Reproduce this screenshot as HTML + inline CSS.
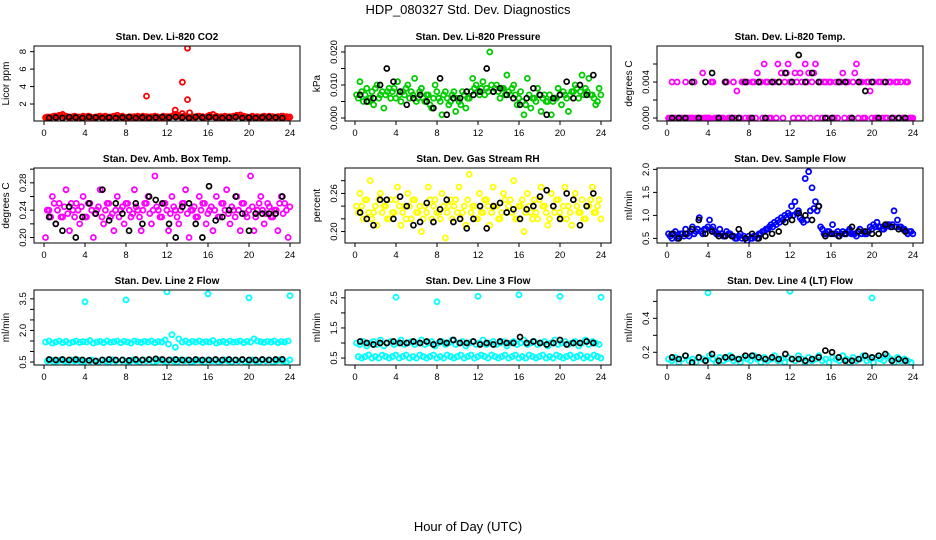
<!DOCTYPE html>
<html><head><meta charset="utf-8"><style>
html,body{margin:0;padding:0;background:#fff;}
svg{display:block;font-family:"Liberation Sans",sans-serif;}
</style></head><body>
<svg id="chart" width="936" height="540" viewBox="0 0 936 540" xmlns="http://www.w3.org/2000/svg">
<text x="468" y="14" text-anchor="middle" font-size="13">HDP_080327  Std. Dev. Diagnostics</text>
<text x="468" y="531" text-anchor="middle" font-size="13">Hour of Day (UTC)</text>
</svg>
<script>
var xTicks=[0,4,8,12,16,20,24];
var co2Main=[0.45,0.5,0.55,0.6,0.7,0.8,0.6,0.5,0.55,0.45,0.5,0.6,0.5,0.55,0.45,0.5,0.6,0.55,0.5,0.45,0.6,0.7,0.55,0.5,0.45,0.5,0.55,0.6,0.5,0.45,0.5,0.55,0.6,0.5,0.5,0.45,0.55,0.6,0.8,0.7,0.9,0.6,0.5,0.55,0.5,0.6,0.55,0.5,0.7,0.8,0.6,0.5,0.45,0.5,0.55,0.6,0.7,0.75,0.6,0.5,0.45,0.5,0.55,0.5,0.6,0.5,0.45,0.5,0.55,0.6,0.5,0.45];
var co2Main2=[0.5,0.4,0.6,0.5,0.65,0.55,0.5,0.45,0.6,0.5,0.4,0.55,0.6,0.45,0.5,0.55,0.45,0.6,0.5,0.55,0.45,0.5,0.6,0.45,0.55,0.5,0.45,0.5,0.6,0.55,0.45,0.5,0.55,0.45,0.6,0.55,0.5,0.7,0.6,0.5,0.6,0.55,0.45,0.5,0.6,0.5,0.45,0.6,0.55,0.5,0.45,0.55,0.6,0.5,0.45,0.55,0.6,0.5,0.55,0.45,0.6,0.5,0.45,0.55,0.5,0.6,0.55,0.45,0.5,0.6,0.55,0.5];
var co2OutHours=[10,12.8,13.5,14,14,14.2];
var co2OutVals=[2.9,1.3,4.5,8.4,2.5,1.0];
var co2Black=[0.4,0.45,0.4,0.5,0.45,0.4,0.5,0.45,0.4,0.45,0.4,0.45,0.5,0.4,0.45,0.4,0.45,0.5,0.45,0.5,0.45,0.4,0.5,0.45,0.5,0.45,0.4,0.45,0.5,0.4,0.45,0.4,0.45,0.5,0.45,0.4];
var presMain=[0.007,0.011,0.005,0.009,0.006,0.004,0.010,0.007,0.003,0.008,0.006,0.009,0.011,0.005,0.007,0.010,0.008,0.012,0.006,0.009,0.005,0.007,0.003,0.010,0.006,0.001,0.008,0.004,0.007,0.002,0.005,0.008,0.003,0.006,0.012,0.010,0.007,0.011,0.009,0.020,0.008,0.010,0.006,0.009,0.013,0.007,0.010,0.004,0.008,0.001,0.012,0.003,0.006,0.009,0.002,0.007,0.005,0.001,0.006,0.009,0.004,0.007,0.002,0.008,0.010,0.006,0.013,0.009,0.012,0.007,0.004,0.009];
var presMain2=[0.006,0.008,0.007,0.005,0.008,0.009,0.006,0.008,0.007,0.009,0.008,0.006,0.007,0.008,0.009,0.006,0.007,0.005,0.008,0.006,0.007,0.004,0.006,0.008,0.005,0.007,0.006,0.005,0.008,0.006,0.004,0.007,0.006,0.008,0.009,0.008,0.009,0.007,0.008,0.010,0.009,0.008,0.009,0.007,0.008,0.009,0.007,0.006,0.005,0.004,0.007,0.006,0.005,0.007,0.006,0.005,0.007,0.005,0.006,0.007,0.008,0.006,0.007,0.008,0.009,0.008,0.007,0.008,0.007,0.006,0.005,0.007];
var presBlack=[0.007,0.005,0.006,0.010,0.015,0.011,0.008,0.004,0.006,0.007,0.005,0.003,0.012,0.001,0.006,0.006,0.008,0.007,0.008,0.015,0.008,0.009,0.007,0.006,0.004,0.006,0.009,0.007,0.001,0.006,0.007,0.011,0.006,0.010,0.007,0.013];
var tempMain=[0,0.004,0,0,0,0.004,0,0,0,0,0.005,0,0,0.004,0,0,0,0.004,0,0.004,0.003,0,0.004,0.004,0,0.004,0.005,0.004,0.006,0.004,0,0.004,0.006,0.005,0.004,0.006,0.004,0.005,0,0.004,0.006,0.005,0.004,0.006,0.004,0,0.004,0.004,0,0.004,0.004,0.005,0.004,0,0.004,0.006,0.004,0,0.004,0.003,0.004,0,0.004,0.004,0,0.004,0,0.004,0.004,0,0.004,0];
var tempMain2=[0,0,0.004,0,0,0,0,0.004,0,0,0,0,0.004,0,0,0,0.004,0,0,0,0,0.004,0,0,0.004,0,0.004,0,0.004,0,0.004,0,0.004,0,0.005,0.004,0,0.004,0.005,0,0.004,0,0.005,0,0.004,0.004,0,0.004,0,0,0.004,0,0.004,0,0.005,0,0.004,0,0.004,0,0,0.004,0,0,0.004,0,0.004,0,0,0.004,0,0];
var tempBlack=[0,0,0,0.004,0,0.004,0.005,0,0.004,0,0,0.004,0,0.004,0,0.004,0.004,0.005,0.004,0.007,0.004,0.005,0.004,0,0,0.004,0.004,0,0.004,0.003,0.004,0,0.004,0,0,0];
var ambMain=[0.20,0.24,0.26,0.22,0.25,0.23,0.27,0.21,0.24,0.25,0.22,0.26,0.23,0.25,0.20,0.24,0.27,0.22,0.25,0.23,0.21,0.26,0.24,0.22,0.25,0.23,0.27,0.24,0.21,0.25,0.26,0.22,0.29,0.24,0.23,0.25,0.21,0.26,0.24,0.22,0.25,0.27,0.20,0.24,0.23,0.26,0.25,0.22,0.24,0.21,0.26,0.23,0.25,0.27,0.22,0.24,0.26,0.21,0.25,0.23,0.29,0.21,0.24,0.26,0.22,0.25,0.23,0.24,0.21,0.26,0.25,0.20];
var ambMain2=[0.24,0.23,0.25,0.24,0.23,0.245,0.235,0.25,0.23,0.24,0.245,0.23,0.25,0.24,0.235,0.245,0.23,0.24,0.25,0.235,0.24,0.23,0.245,0.25,0.24,0.235,0.245,0.23,0.24,0.25,0.235,0.24,0.245,0.23,0.25,0.24,0.235,0.245,0.23,0.24,0.25,0.235,0.24,0.245,0.23,0.24,0.25,0.235,0.245,0.24,0.23,0.25,0.24,0.235,0.245,0.23,0.24,0.25,0.235,0.24,0.245,0.23,0.25,0.24,0.235,0.245,0.23,0.24,0.25,0.235,0.24,0.245];
var ambBlack=[0.23,0.22,0.21,0.245,0.20,0.23,0.25,0.235,0.27,0.225,0.25,0.235,0.21,0.25,0.22,0.26,0.255,0.25,0.22,0.20,0.245,0.25,0.22,0.20,0.275,0.225,0.23,0.24,0.26,0.235,0.21,0.235,0.235,0.235,0.235,0.26];
var rhMain=[0.24,0.26,0.22,0.25,0.28,0.23,0.21,0.26,0.24,0.22,0.25,0.23,0.27,0.21,0.24,0.26,0.22,0.25,0.23,0.20,0.24,0.27,0.22,0.25,0.23,0.26,0.19,0.24,0.22,0.25,0.27,0.23,0.21,0.29,0.24,0.22,0.26,0.23,0.25,0.21,0.27,0.24,0.22,0.26,0.23,0.25,0.28,0.22,0.24,0.20,0.26,0.23,0.25,0.22,0.27,0.24,0.21,0.26,0.23,0.25,0.22,0.27,0.24,0.21,0.26,0.23,0.25,0.22,0.24,0.27,0.23,0.25];
var rhMain2=[0.23,0.24,0.25,0.23,0.22,0.24,0.25,0.23,0.24,0.22,0.23,0.25,0.24,0.23,0.22,0.24,0.25,0.23,0.24,0.22,0.23,0.25,0.24,0.23,0.22,0.24,0.23,0.25,0.24,0.23,0.22,0.24,0.25,0.23,0.24,0.22,0.23,0.25,0.24,0.23,0.24,0.22,0.23,0.25,0.24,0.23,0.22,0.24,0.25,0.23,0.24,0.22,0.23,0.25,0.24,0.23,0.22,0.24,0.25,0.23,0.24,0.22,0.23,0.25,0.24,0.23,0.22,0.24,0.25,0.23,0.24,0.22];
var rhBlack=[0.23,0.22,0.21,0.25,0.25,0.22,0.255,0.24,0.21,0.215,0.245,0.215,0.235,0.25,0.215,0.22,0.205,0.22,0.24,0.205,0.24,0.245,0.23,0.235,0.22,0.235,0.24,0.255,0.265,0.24,0.22,0.26,0.25,0.21,0.24,0.26];
var sflowMain=[0.6,0.5,0.65,0.55,0.6,0.7,0.55,0.75,0.65,0.95,0.6,0.7,0.9,0.75,0.6,0.7,0.55,0.65,0.6,0.55,0.5,0.6,0.55,0.45,0.5,0.55,0.5,0.6,0.65,0.7,0.8,0.85,0.9,0.95,1.0,1.05,1.2,1.3,1.1,0.9,1.8,1.95,1.6,1.3,1.2,0.7,0.6,0.65,0.8,0.6,0.55,0.65,0.6,0.7,0.6,0.55,0.7,0.65,0.6,0.75,0.8,0.85,0.75,0.7,0.8,0.75,1.1,0.9,0.75,0.7,0.6,0.65];
var sflowMain2=[0.55,0.6,0.5,0.6,0.55,0.6,0.65,0.6,0.7,0.65,0.7,0.75,0.7,0.65,0.6,0.6,0.55,0.6,0.55,0.5,0.55,0.5,0.5,0.55,0.5,0.55,0.6,0.65,0.7,0.75,0.75,0.8,0.85,0.9,0.95,1.0,1.0,1.05,0.95,0.85,0.9,1.1,1.15,1.1,0.75,0.6,0.65,0.6,0.6,0.65,0.6,0.6,0.65,0.6,0.6,0.65,0.6,0.6,0.65,0.7,0.75,0.75,0.7,0.75,0.8,0.8,0.75,0.75,0.7,0.65,0.65,0.6];
var sflowBlack=[0.6,0.5,0.6,0.7,0.9,0.6,0.65,0.55,0.55,0.55,0.7,0.5,0.6,0.5,0.55,0.6,0.65,0.85,0.9,1.05,1.0,0.9,1.2,0.55,0.6,0.55,0.6,0.75,0.65,0.65,0.6,0.6,0.8,0.75,0.7,0.65];
var l2Band=[1.45,1.5,1.4,1.45,1.5,1.42,1.48,1.4,1.45,1.5,1.43,1.47,1.45,1.52,1.4,1.45,1.48,1.42,1.5,1.44,1.46,1.5,1.42,1.48,1.45,1.4,1.5,1.46,1.43,1.48,1.45,1.5,1.42,1.47,1.45,1.55,1.35,1.8,1.2,1.6,1.45,1.5,1.42,1.48,1.45,1.5,1.43,1.47,1.45,1.52,1.4,1.45,1.48,1.42,1.5,1.44,1.46,1.5,1.42,1.48,1.45,1.6,1.5,1.46,1.43,1.48,1.45,1.5,1.42,1.47,1.45,1.5];
var l2Low=[0.55,0.6,0.5,0.55,0.6,0.55,0.5,0.6,0.55,0.6,0.5,0.55,0.45,0.6,0.55,0.5,0.6,0.55,0.5,0.6,0.55,0.4,0.6,0.55,0.5,0.6,0.55,0.5,0.6,0.55,0.6,0.5,0.55,0.6,0.55,0.5,0.6,0.55,0.5,0.6,0.55,0.6,0.5,0.55,0.6,0.55,0.5,0.6,0.55,0.6,0.5,0.55,0.6,0.55,0.5,0.6,0.55,0.6,0.5,0.55,0.6,0.55,0.5,0.6,0.55,0.6,0.5,0.55,0.6,0.55,0.5,0.6];
var l2OutHours=[4,8,12,16,20,24];
var l2OutVals=[3.36,3.45,3.83,3.74,3.55,3.65];
var l2Black=[0.62,0.6,0.62,0.6,0.62,0.6,0.58,0.55,0.6,0.62,0.6,0.6,0.58,0.62,0.6,0.62,0.65,0.62,0.6,0.62,0.6,0.6,0.62,0.6,0.6,0.62,0.6,0.62,0.6,0.62,0.6,0.6,0.62,0.6,0.62,0.63];
var l3Band=[1.0,0.95,1.05,0.9,1.0,1.05,0.95,1.1,0.9,1.0,1.05,0.95,1.0,1.1,0.95,1.0,1.05,0.95,1.0,1.1,0.95,1.0,1.05,0.9,1.0,1.05,0.95,1.0,1.1,0.95,1.0,1.05,0.9,1.0,1.05,0.95,1.0,1.1,0.95,1.0,1.05,0.95,1.0,1.05,0.9,1.0,1.05,0.95,1.0,1.1,0.95,1.0,1.05,0.95,1.0,1.05,0.9,1.0,1.1,0.95,1.0,1.05,0.95,1.0,1.05,0.9,1.0,1.1,0.95,1.05,1.0,0.95];
var l3Low=[0.55,0.5,0.55,0.6,0.5,0.55,0.5,0.6,0.55,0.5,0.55,0.6,0.5,0.55,0.6,0.5,0.55,0.5,0.6,0.55,0.5,0.55,0.6,0.5,0.55,0.5,0.6,0.55,0.5,0.55,0.6,0.5,0.55,0.6,0.5,0.55,0.6,0.55,0.5,0.6,0.55,0.5,0.55,0.6,0.5,0.55,0.6,0.5,0.55,0.5,0.6,0.55,0.5,0.55,0.6,0.5,0.55,0.5,0.6,0.55,0.5,0.55,0.6,0.5,0.55,0.6,0.5,0.55,0.5,0.6,0.55,0.5];
var l3OutHours=[4,8,12,16,20,24];
var l3OutVals=[2.52,2.37,2.55,2.6,2.55,2.52];
var l3Black=[1.05,1.0,0.95,1.0,1.0,1.05,1.0,1.0,1.05,1.0,1.05,0.95,1.05,1.0,1.1,1.0,1.0,1.05,0.95,1.0,0.95,1.05,1.0,1.0,1.2,1.0,1.05,1.0,0.95,1.0,1.1,0.95,1.0,1.0,1.05,1.0];
var l4Main=[0.16,0.15,0.17,0.14,0.16,0.18,0.15,0.16,0.14,0.17,0.16,0.15,0.18,0.16,0.14,0.17,0.15,0.16,0.18,0.15,0.16,0.14,0.17,0.16,0.15,0.18,0.16,0.14,0.17,0.15,0.16,0.18,0.15,0.16,0.14,0.17,0.16,0.15,0.18,0.16,0.14,0.17,0.15,0.16,0.18,0.15,0.16,0.14,0.17,0.16,0.15,0.18,0.16,0.14,0.17,0.15,0.16,0.18,0.15,0.16,0.14,0.17,0.16,0.15,0.18,0.16,0.14,0.17,0.15,0.16,0.15,0.14];
var l4OutHours=[4,12,20];
var l4OutVals=[0.55,0.56,0.52];
var l4Black=[0.17,0.16,0.18,0.14,0.17,0.15,0.19,0.15,0.17,0.17,0.16,0.18,0.18,0.17,0.16,0.17,0.16,0.19,0.16,0.16,0.15,0.16,0.17,0.21,0.2,0.17,0.15,0.15,0.16,0.18,0.17,0.18,0.19,0.15,0.16,0.15];

var panels=[
 {name:'co2',title:'Stan. Dev. Li-820 CO2',ylab:'Licor ppm',col:0,row:0,dom:[0.05,8.65],ticks:[2,4,6,8],labels:['2','4','6','8'],color:'#ff0000',main:[co2Main,co2Main2],oh:co2OutHours,ov:co2OutVals,black:co2Black},
 {name:'pressure',title:'Stan. Dev. Li-820 Pressure',ylab:'kPa',col:1,row:0,dom:[-0.0009,0.0218],ticks:[0,0.005,0.01,0.015,0.02],labels:['0.000','','0.010','','0.020'],color:'#00cc00',main:[presMain,presMain2],oh:[],ov:[],black:presBlack},
 {name:'temp',title:'Stan. Dev. Li-820 Temp.',ylab:'degrees C',col:2,row:0,dom:[-0.00033,0.008],ticks:[0,0.002,0.004,0.006],labels:['0.000','','0.004',''],color:'#ff00ff',main:[tempMain,tempMain2],oh:[],ov:[],black:tempBlack},
 {name:'amb-box-temp',title:'Stan. Dev. Amb. Box Temp.',ylab:'degrees C',col:0,row:1,dom:[0.192,0.3017],ticks:[0.2,0.22,0.24,0.26,0.28,0.3],labels:['0.20','','0.24','','0.28',''],color:'#ff00ff',main:[ambMain,ambMain2],oh:[],ov:[],black:ambBlack},
 {name:'gas-rh',title:'Stan. Dev. Gas Stream RH',ylab:'percent',col:1,row:1,dom:[0.182,0.300],ticks:[0.2,0.22,0.24,0.26,0.28],labels:['0.20','','','0.26',''],color:'#ffff00',main:[rhMain,rhMain2],oh:[],ov:[],black:rhBlack},
 {name:'sample-flow',title:'Stan. Dev. Sample Flow',ylab:'ml/min',col:2,row:1,dom:[0.40,2.03],ticks:[0.5,1,1.5,2],labels:['0.5','1.0','1.5','2.0'],color:'#0000ff',main:[sflowMain,sflowMain2],oh:[],ov:[],black:sflowBlack},
 {name:'line2-flow',title:'Stan. Dev. Line 2 Flow',ylab:'ml/min',col:0,row:2,dom:[0.36,3.92],ticks:[0.5,1,1.5,2,2.5,3,3.5],labels:['0.5','','','2.0','','','3.5'],color:'#00ffff',main:[l2Band,l2Low],oh:l2OutHours,ov:l2OutVals,black:l2Black},
 {name:'line3-flow',title:'Stan. Dev. Line 3 Flow',ylab:'ml/min',col:1,row:2,dom:[0.27,2.76],ticks:[0.5,1,1.5,2,2.5],labels:['0.5','','1.5','','2.5'],color:'#00ffff',main:[l3Band,l3Low],oh:l3OutHours,ov:l3OutVals,black:l3Black},
 {name:'line4-flow',title:'Stan. Dev. Line 4 (LT) Flow',ylab:'ml/min',col:2,row:2,dom:[0.125,0.567],ticks:[0.2,0.3,0.4,0.5],labels:['0.2','','0.4',''],color:'#00ffff',main:[l4Main],oh:l4OutHours,ov:l4OutVals,black:l4Black}
];
var NS='http://www.w3.org/2000/svg';
var svg=document.getElementById('chart');
var colLeft=[34,345,657], rowTop=[46,168,290], W=266, H=75;
function mk(tag,attrs,parent){var e=document.createElementNS(NS,tag);for(var k in attrs)e.setAttribute(k,attrs[k]);parent.appendChild(e);return e;}
function drawPanel(p){
  var L=colLeft[p.col], T=rowTop[p.row];
  var g=mk('g',{},svg);
  
  
  var xs=function(h){return L+10+h*(246/24);};
  var ys=function(v){return T+H-(v-p.dom[0])/(p.dom[1]-p.dom[0])*H;};
  var t=mk('text',{x:L+W/2,y:T-6,'text-anchor':'middle','font-size':'10','font-weight':'bold'},g);
  t.textContent=p.title;
  
  
  var yl=mk('text',{x:0,y:0,'text-anchor':'middle','font-size':'10',transform:'translate('+(L-25)+','+(T+H/2)+') rotate(-90)'},g);
  yl.textContent=p.ylab;
  
  
  var cid='clip-'+p.name;
  var cp=mk('clipPath',{id:cid},g);
  mk('rect',{x:L,y:T,width:W,height:H},cp);
  var dg=mk('g',{'clip-path':'url(#'+cid+')'},g);
  for(var k=0;k<p.main.length;k++){
    var arr=p.main[k]||[];
    for(var i=0;i<arr.length;i++){
      var h=i*24/arr.length+0.15+k*0.17;
      var c=mk('circle',{cx:xs(h),cy:ys(arr[i]),r:2.5,fill:'none',stroke:p.color,'stroke-width':1.8},dg);
      
      
    }
  }
  for(var j=0;j<p.oh.length;j++){
    var o=mk('circle',{cx:xs(p.oh[j]),cy:ys(p.ov[j]),r:2.5,fill:'none',stroke:p.color,'stroke-width':1.8},dg);
    
    
  }
  for(var b=0;b<p.black.length;b++){
    var hb=0.5+b*23.4/p.black.length;
    var bc=mk('circle',{cx:xs(hb),cy:ys(p.black[b]),r:2.5,fill:'none',stroke:'#000','stroke-width':1.7},dg);
    
    
  }
  var box=mk('rect',{x:L,y:T,width:W,height:H,fill:'none',stroke:'#000','stroke-width':1},g);
  
  
  for(var q=0;q<xTicks.length;q++){
    var hx=xTicks[q];
    mk('line',{x1:xs(hx),x2:xs(hx),y1:T+H,y2:T+H+4,stroke:'#000'},g);
    var tx=mk('text',{x:xs(hx),y:T+H+15,'text-anchor':'middle','font-size':'9.5'},g);
    tx.textContent=String(hx);
    
    
  }
  for(var m=0;m<p.ticks.length;m++){
    var y=ys(p.ticks[m]);
    mk('line',{x1:L-4,x2:L,y1:y,y2:y,stroke:'#000'},g);
    if(p.labels[m]){
      var ty=mk('text',{x:0,y:0,'text-anchor':'middle','font-size':'9.5',transform:'translate('+(L-8)+','+y+') rotate(-90)'},g);
      ty.textContent=p.labels[m];
      
      
    }
  }
}
for(var pi=0;pi<panels.length;pi++){
  try{drawPanel(panels[pi]);}catch(err){}
}
</script>
</body></html>
